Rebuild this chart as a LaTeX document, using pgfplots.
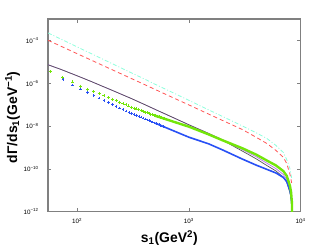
\documentclass[border=0pt]{standalone}
\usepackage{pgfplots}
\pgfplotsset{compat=1.18}
\usepackage{fontspec}
\setmainfont{Liberation Sans}
\definecolor{cyanL}{RGB}{140,255,220}
\definecolor{redL}{RGB}{255,85,85}
\definecolor{grayL}{RGB}{85,85,85}
\definecolor{purpL}{RGB}{185,105,240}
\definecolor{greenL}{RGB}{115,230,10}
\definecolor{blueL}{RGB}{40,80,245}
\definecolor{axisG}{RGB}{128,128,128}
\newcommand{\tlab}{10\textsuperscript{\pgfmathtruncatemacro\e{round(\tick)}\ifnum\e<0 −\the\numexpr-\e\relax\else\e\fi}}
\begin{document}
\begin{tikzpicture}
\useasboundingbox (-48bp,-38.3bp) rectangle (284bp,211.7bp);
\begin{axis}[
 at={(0,0)}, anchor=south west,
 scale only axis, width=252.7bp, height=192.7bp,
 xmode=log, ymode=log, log basis x=10, log basis y=10,
 xmin=55, xmax=10000, ymin=1e-12, ymax=1e-3,
 xtick={100,1000,10000}, ytick={1e-12,1e-10,1e-8,1e-6,1e-4},
 yminorticks=false,
 tick align=inside,
 axis line style={axisG, line width=1.4pt},
 every tick/.style={axisG, line width=0.6pt},
 major tick length=3.5bp, minor tick length=2bp,
 xticklabel={\tlab}, yticklabel={\tlab},
 ticklabel style={font=\fontsize{6.3}{7}\selectfont},
 xticklabel style={yshift=-3bp},
 yticklabel style={xshift=-6bp},
 xlabel={s\textsubscript{1}(GeV\textsuperscript{2})},
 ylabel={dΓ/ds\textsubscript{1}(GeV\textsuperscript{−1})},
 label style={font=\fontsize{14}{16}\selectfont\bfseries},
 xlabel style={at={(axis description cs:0.48,-0.135)}, anchor=center},
 ylabel style={at={(axis description cs:-0.1405,0.49)}, anchor=center},
]
% cyan dash-dot
\addplot[cyanL, line width=0.8pt, dash pattern=on 4bp off 2bp on 1bp off 2bp] coordinates {
(55,2.244e-4) (60,1.808e-4) (70,1.227e-4) (80,8.79e-5) (100,5.02e-5) (130,2.60e-5) (170,1.334e-5) (200,8.86e-6) (300,3.22e-6) (400,1.581e-6) (500,8.93e-7) (700,3.90e-7) (1000,1.593e-7) (1500,5.73e-8) (2000,2.81e-8) (3000,1.022e-8) (4000,4.86e-9) (5000,2.60e-9) (6000,1.25e-9) (7000,5.82e-10) (7500,2.71e-10) (8000,1.05e-10) (8300,3.8e-11)};
% red dashed
\addplot[redL, line width=0.8pt, dash pattern=on 4bp off 3bp] coordinates {
(55,1.011e-4) (60,8.24e-5) (70,5.71e-5) (80,4.13e-5) (100,2.413e-5) (130,1.292e-5) (170,6.77e-6) (200,4.59e-6) (300,1.742e-6) (400,8.74e-7) (500,5.10e-7) (700,2.273e-7) (1000,9.71e-8) (1500,3.64e-8) (2000,1.828e-8) (3000,6.93e-9) (4000,2.99e-9) (5000,1.518e-9) (6000,7.3e-10) (7000,3.45e-10) (7500,1.778e-10) (8000,5.86e-11) (8300,2.2e-11)};
% purple
\addplot[purpL, line width=0.7pt] coordinates {
(55,7.30e-6) (60,6.21e-6) (70,4.64e-6) (80,3.55e-6) (100,2.231e-6) (130,1.288e-6) (170,7.12e-7) (200,4.99e-7) (300,2.02e-7) (400,1.024e-7) (500,5.98e-8) (700,2.694e-8) (1000,1.150e-8) (1500,4.60e-9) (2000,2.33e-9) (3000,8.04e-10) (4000,3.70e-10) (5000,1.82e-10) (6000,1.028e-10) (7000,5.44e-11) (7500,3.28e-11) (8000,1.153e-11) (8200,6.04e-12) (8350,1.85e-12) (8450,1e-14)};
% dark gray
\addplot[grayL, line width=0.7pt] coordinates {
(55,7.30e-6) (60,6.21e-6) (70,4.64e-6) (80,3.55e-6) (100,2.231e-6) (130,1.288e-6) (170,7.12e-7) (200,4.99e-7) (300,2.02e-7) (400,1.024e-7) (500,5.98e-8) (700,2.694e-8) (1000,1.150e-8) (1500,4.51e-9) (2000,2.19e-9) (3000,6.84e-10) (4000,2.95e-10) (5000,1.419e-10) (6000,8.02e-11) (7000,4.11e-11) (7500,2.43e-11) (8000,7.91e-12) (8200,4.38e-12) (8350,1.49e-12) (8450,1e-14)};
% blue points and band
\addplot[only marks, mark=+, mark size=1.2bp, blueL, line width=0.6pt] coordinates {
(74.6,1.498e-6) (91.2,8.37e-7) (107.8,5.33e-7) (124.4,3.69e-7) (141,2.702e-7) (157.6,2.041e-7) (174.2,1.577e-7) (190.8,1.257e-7) (207.4,1.013e-7) (224,8.35e-8) (240.6,6.95e-8) (257.2,5.85e-8) (273.8,5.03e-8) (290.4,4.33e-8) (307,3.80e-8) (323.6,3.41e-8) (340.2,3.10e-8)
(356.8,2.82e-8) (373.4,2.57e-8) (390.0,2.36e-8) (406.6,2.16e-8) (423.2,1.98e-8) (439.8,1.82e-8) (456.4,1.67e-8) (473.0,1.55e-8) (489.6,1.43e-8) (506.2,1.33e-8) (522.8,1.24e-8) (539.4,1.16e-8) (556.0,1.085e-8) (572.6,1.017e-8) (589.2,9.56e-9) (605.8,9.00e-9)};
\addplot[blueL, line width=1.6bp] coordinates {
(500,1.367e-8) (700,6.57e-9) (1000,3.02e-9) (1500,1.486e-9) (2000,7.70e-10) (3000,2.89e-10) (4000,1.498e-10) (5000,9.42e-11) (6000,6.46e-11) (7000,3.98e-11) (7500,2.56e-11) (8000,9.82e-12) (8200,5.14e-12) (8350,2.06e-12) (8450,1e-14)};
% green points and band
\addplot[only marks, mark=+, mark size=1.5bp, greenL, line width=0.7pt] coordinates {
(58,3.545e-6) (74.6,1.898e-6) (91.2,1.157e-6) (107.8,7.36e-7) (124.4,5.38e-7) (141,4.11e-7) (157.6,3.244e-7) (174.2,2.644e-7) (190.8,2.154e-7) (207.4,1.794e-7) (224,1.510e-7) (240.6,1.298e-7) (257.2,1.129e-7) (273.8,9.81e-8) (290.4,8.72e-8) (307,7.74e-8) (323.6,6.95e-8) (340.2,6.31e-8)
(356.8,5.75e-8) (373.4,5.27e-8) (390.0,4.85e-8) (406.6,4.48e-8) (423.2,4.15e-8) (439.8,3.86e-8) (456.4,3.60e-8) (473.0,3.37e-8) (489.6,3.16e-8) (506.2,2.97e-8) (522.8,2.81e-8) (539.4,2.67e-8) (556.0,2.53e-8) (572.6,2.41e-8) (589.2,2.30e-8) (605.8,2.19e-8)};
\addplot[greenL, line width=2.4bp] coordinates {
(500,3.03e-8) (700,1.713e-8) (1000,9.37e-9) (1500,4.09e-9) (2000,2.166e-9) (3000,9.25e-10) (4000,4.64e-10) (5000,2.43e-10) (6000,1.452e-10) (7000,7.85e-11) (7500,4.73e-11) (8000,1.683e-11) (8200,8.36e-12) (8350,2.55e-12) (8450,1e-14)};
\end{axis}
\end{tikzpicture}
\end{document}
